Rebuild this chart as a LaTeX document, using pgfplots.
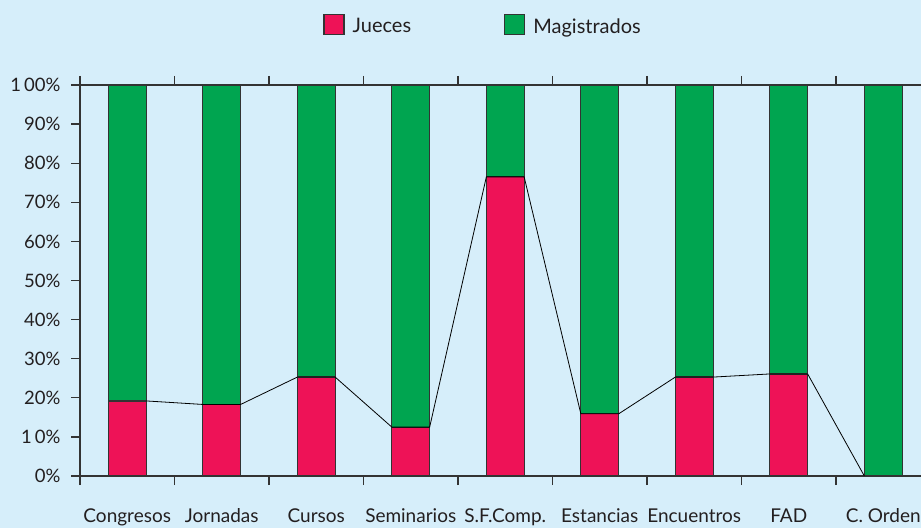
\documentclass[border=0pt]{standalone}
\usepackage{pgfplots}
\pgfplotsset{compat=1.18}
\usepackage{fontspec}
\setmainfont{Lato}
\definecolor{bg}{HTML}{D6EEFA}
\definecolor{jred}{HTML}{EE1257}
\definecolor{mgreen}{HTML}{00A550}
\definecolor{edge}{HTML}{333333}
\definecolor{txt}{HTML}{231F20}
\begin{document}
\begin{tikzpicture}
\path[use as bounding box, fill=bg] (0,0) rectangle (921pt,528pt);
\begin{axis}[
  at={(80pt,52pt)}, anchor=south west,
  scale only axis, width=850.5pt, height=391pt,
  ybar stacked, bar width=38pt,
  xmin=-0.5, xmax=8.5, ymin=0, ymax=100,
  axis background/.style={fill=bg},
  tick align=outside,
  major tick length=9pt, minor tick length=9pt,
  tick style={edge, line width=1.2pt},
  major x tick style={draw=none},
  xtick={0,...,8},
  xticklabels={Congresos, Jornadas, Cursos, Seminarios, S.F.Comp., Estancias, Encuentros, FAD, C. Orden},
  minor xtick={-0.5,0.5,...,8.5},
  ytick={0,10,...,100},
  yticklabels={0\%, 1\,0\%, 20\%, 30\%, 40\%, 50\%, 60\%, 70\%, 80\%, 90\%, 1\,00\%},
  axis line style={edge, line width=1.2pt},
  xticklabel style={font=\fontsize{19}{23}\selectfont, text=txt, yshift=-20pt},
  yticklabel style={font=\fontsize{18.5}{22}\selectfont, text=txt, xshift=-7pt},
  legend style={at={(0.2825,1.153)}, anchor=west, draw=none, fill=none,
    font=\fontsize{20}{24}\selectfont, text=txt,
    legend columns=2,
    /tikz/every even column/.append style={column sep=91pt}},
  legend image code/.code={\draw[#1] (0pt,-8pt) rectangle (20pt,12pt); \path (26pt,2pt);},
]
\addplot[fill=jred, draw=edge, line width=1.2pt] coordinates {
  (0,19.2) (1,18.3) (2,25.3) (3,12.5) (4,76.5) (5,15.9) (6,25.3) (7,26.1) (8,0)};
\addplot[fill=mgreen, draw=edge, line width=1.2pt] coordinates {
  (0,80.8) (1,81.7) (2,74.7) (3,87.5) (4,23.5) (5,84.1) (6,74.7) (7,73.9) (8,100)};
\legend{Jueces, Magistrados}
\end{axis}
\begin{axis}[
  at={(80pt,52pt)}, anchor=south west,
  scale only axis, width=850.5pt, height=391pt,
  xmin=-0.5, xmax=8.5, ymin=0, ymax=100,
  hide axis, clip=false,
]
\addplot[black, line width=0.8pt, mark=none] coordinates {
  (0.2,19.2) (0.8,18.3) (1.2,18.3) (1.8,25.3) (2.2,25.3) (2.8,12.5)
  (3.2,12.5) (3.8,76.5) (4.2,76.5) (4.8,15.9) (5.2,15.9) (5.8,25.3)
  (6.2,25.3) (6.8,26.1) (7.2,26.1) (7.8,0)};
\end{axis}
\end{tikzpicture}
\end{document}
